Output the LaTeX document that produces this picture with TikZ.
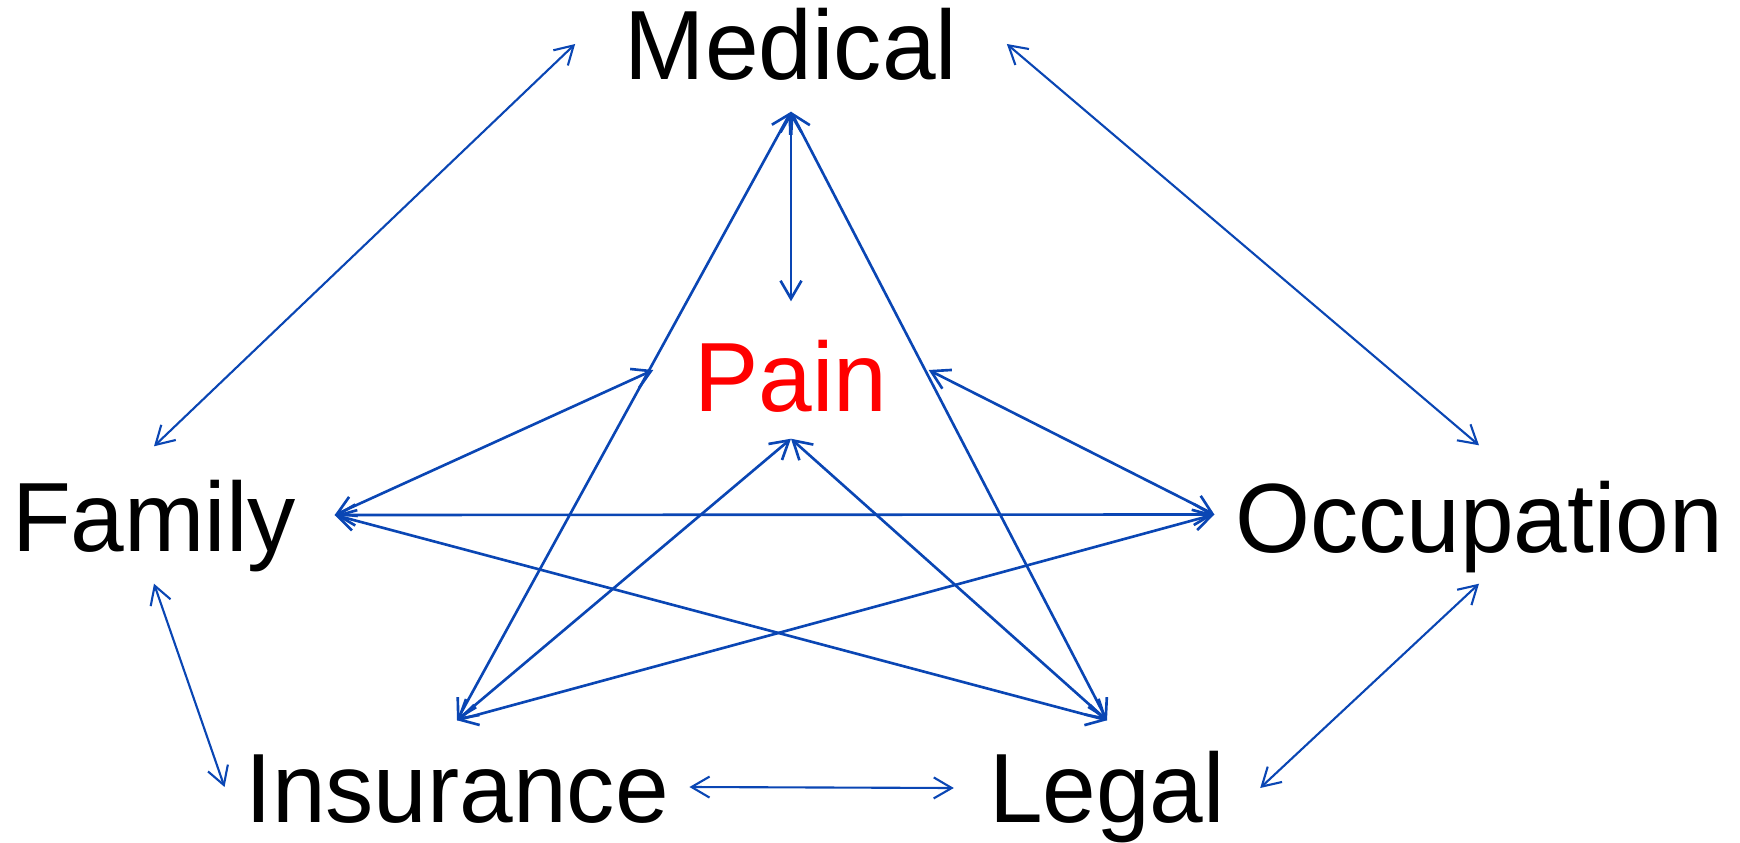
\documentclass[tikz,border=0pt]{standalone}
\usepackage{fontspec}
\setmainfont[FakeStretch=0.98]{Liberation Sans}
\usepackage{xcolor}
\usetikzlibrary{arrows.meta}
\definecolor{linkblue}{RGB}{10,70,180}

\begin{document}
\begin{tikzpicture}[
    x=1cm, y=-1cm,
    factor/.style={anchor=base, inner ysep=0pt, font=\fontsize{28}{34}\selectfont},
    link/.style={<->, line width=0.75pt, linkblue, >={Straight Barb[length=1.8mm,width=2.1mm]}},
    outer/.style={link, line width=0.6pt}
]
    \useasboundingbox (0,0) rectangle (17.40,8.43);

    % Nodes
    \node[factor, inner xsep=4.9mm, text height=10.2mm, text depth=3.2mm] (med) at (7.91,0.79) {Medical};
    \node[factor, inner xsep=4.05mm, text height=10.9mm, text depth=2.7mm, text=red] (pain) at (7.91,4.11) {Pain};
    \node[factor, inner xsep=3.8mm, text height=10.4mm, text depth=3.2mm] (fam) at (1.54,5.51) {Family};
    \node[factor, inner xsep=2.0mm, text height=10.6mm, text depth=3.1mm] (occ) at (14.79,5.52) {Occupation};
    \node[factor, inner xsep=2.0mm, text height=10.1mm, text depth=3.1mm] (ins) at (4.57,8.22) {Insurance};
    \node[factor, inner xsep=3.45mm, text height=10.1mm, text depth=3.3mm] (leg) at (11.07,8.22) {Legal};

    % Outer ring
    \draw[outer] (fam.north) -- (med.west);
    \draw[outer] (med.east) -- (occ.north);
    \draw[outer] (fam.south) -- (ins.west);
    \draw[outer] (occ.south) -- (leg.east);
    \draw[outer] (ins.east) -- (leg.west);

    % From Medical
    \draw[link] (med.south) -- (pain.north);
    \draw[link] (med.south) -- (ins.north);
    \draw[link] (med.south) -- (leg.north);

    % From Pain
    \draw[link] (pain.west) -- (fam.east);
    \draw[link] (pain.east) -- (occ.west);
    \draw[link] (pain.south) -- (ins.north);
    \draw[link] (pain.south) -- (leg.north);

    % Cross links
    \draw[link] (fam.east) -- (occ.west);
    \draw[link] (fam.east) -- (leg.north);
    \draw[link] (occ.west) -- (ins.north);

\end{tikzpicture}
\end{document}
